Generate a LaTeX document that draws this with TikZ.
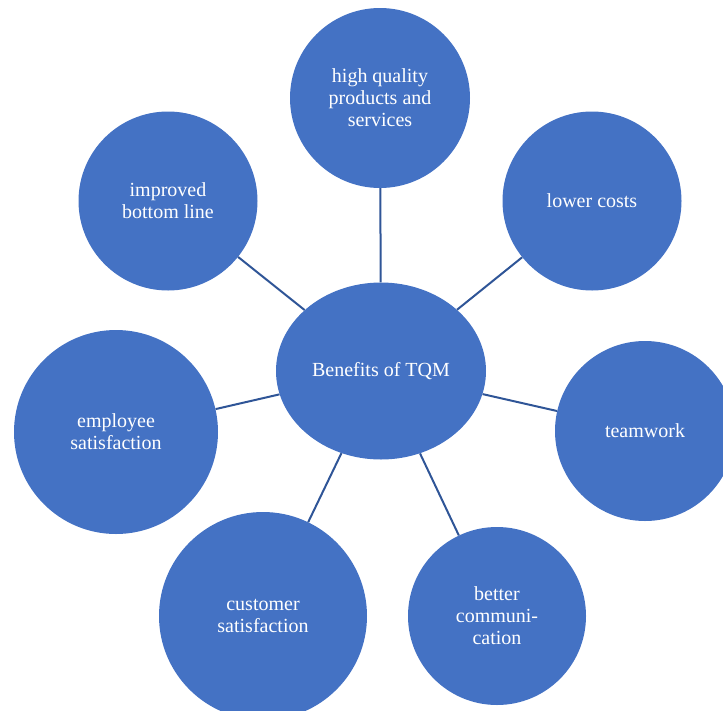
\documentclass[tikz,border=0pt]{standalone}
\usepackage{fontspec}
\setmainfont{Liberation Serif}
\usetikzlibrary{shapes.geometric}
\definecolor{tqmblue}{HTML}{4472C4}
\definecolor{linkblue}{HTML}{2F5597}

\begin{document}
\begin{tikzpicture}[x=1pt, y=-1pt,
    benefit/.style={circle, fill=tqmblue, text=white, align=center, inner sep=0pt,
        font=\fontsize{20}{22}\selectfont},
    link/.style={linkblue, line width=2pt}]
            \useasboundingbox (0,0) rectangle (723,710);
            \clip (0,0) rectangle (723,710);

            % --- Hub ---
            \node[benefit, ellipse, minimum width=210pt, minimum height=177pt] (tqm) at (381,371) {Benefits of TQM};

            % --- Benefits around the hub ---
            \node[benefit, minimum size=180pt] (quality) at (380,98) {high quality\\products and\\services};
            \node[benefit, minimum size=179pt] (costs) at (592,201) {lower costs};
            \node[benefit, minimum size=180pt] (team) at (645,431) {teamwork};
            \node[benefit, minimum size=178pt] (comm) at (497,616) {better\\communi-\\cation};
            \node[benefit, minimum size=208pt] (customer) at (263,616) {customer\\satisfaction};
            \node[benefit, minimum size=204pt] (employee) at (116,432) {employee\\satisfaction};
            \node[benefit, minimum size=179pt] (bottom) at (168,201) {improved\\bottom line};

            % Spokes
            \foreach \b in {quality,costs,team,comm,customer,employee,bottom}
                \draw[link] (tqm) -- (\b);
        \end{tikzpicture}
\end{document}
